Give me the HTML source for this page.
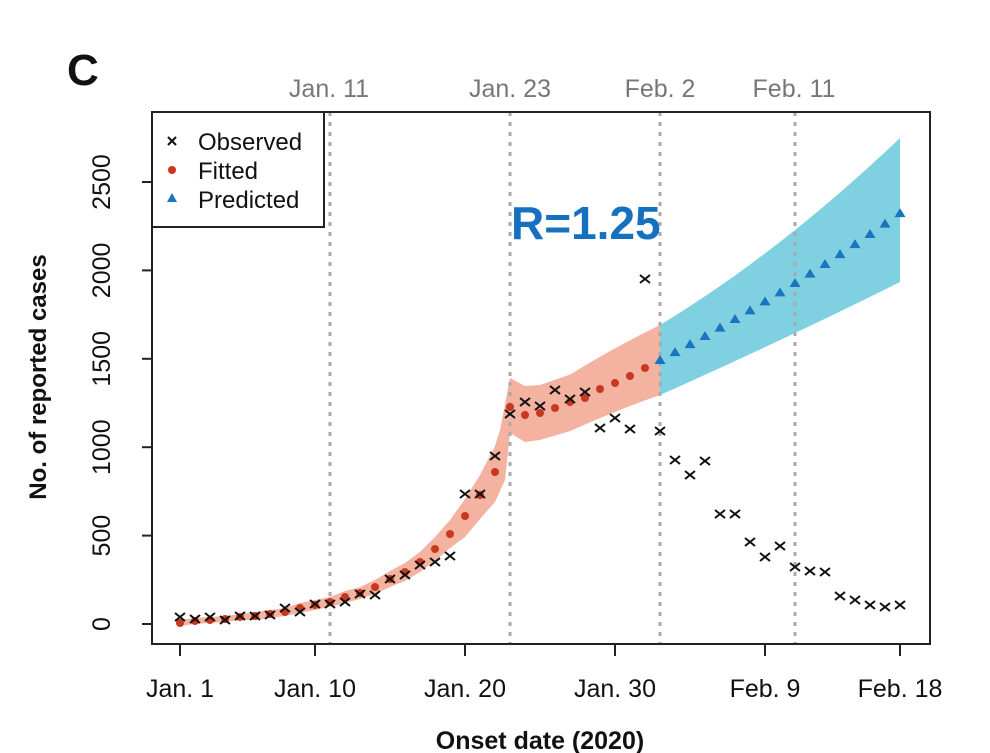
<!DOCTYPE html>
<html><head><meta charset="utf-8"><style>
html,body{margin:0;padding:0;background:#fff;}
svg{display:block;}
text{font-family:"Liberation Sans",Arial,sans-serif;}
</style></head><body>
<svg id="s" width="990" height="753" viewBox="0 0 990 753" xmlns="http://www.w3.org/2000/svg">
<rect width="990" height="753" fill="#fff"/>
<g id="bands"></g>
<g stroke="#aaa" stroke-width="3" stroke-dasharray="4,6">
<line x1="330" y1="112" x2="330" y2="644"/>
<line x1="510" y1="112" x2="510" y2="644"/>
<line x1="660" y1="112" x2="660" y2="644"/>
<line x1="795" y1="112" x2="795" y2="644"/>
</g>
<g id="pts"></g>
<rect x="152" y="112" width="778" height="532" fill="none" stroke="#222" stroke-width="2"/>
<g stroke="#222" stroke-width="2">
<line x1="142" y1="624" x2="152" y2="624"/><line x1="142" y1="535.6" x2="152" y2="535.6"/>
<line x1="142" y1="447.2" x2="152" y2="447.2"/><line x1="142" y1="358.8" x2="152" y2="358.8"/>
<line x1="142" y1="270.4" x2="152" y2="270.4"/><line x1="142" y1="182" x2="152" y2="182"/>
<line x1="180" y1="644" x2="180" y2="656"/><line x1="315" y1="644" x2="315" y2="656"/>
<line x1="465" y1="644" x2="465" y2="656"/><line x1="615" y1="644" x2="615" y2="656"/>
<line x1="765" y1="644" x2="765" y2="656"/><line x1="900" y1="644" x2="900" y2="656"/>
</g>
<g font-size="25" fill="#111" text-anchor="middle">
<text transform="translate(110,624) rotate(-90)">0</text>
<text transform="translate(110,535.6) rotate(-90)">500</text>
<text transform="translate(110,447.2) rotate(-90)">1000</text>
<text transform="translate(110,358.8) rotate(-90)">1500</text>
<text transform="translate(110,270.4) rotate(-90)">2000</text>
<text transform="translate(110,182) rotate(-90)">2500</text>
<text x="180" y="697">Jan. 1</text>
<text x="315" y="697">Jan. 10</text>
<text x="465" y="697">Jan. 20</text>
<text x="615" y="697">Jan. 30</text>
<text x="765" y="697">Feb. 9</text>
<text x="900" y="697">Feb. 18</text>
</g>
<g font-size="25" fill="#777" text-anchor="middle">
<text x="329" y="97">Jan. 11</text>
<text x="510" y="97">Jan. 23</text>
<text x="660" y="97">Feb. 2</text>
<text x="794" y="97">Feb. 11</text>
</g>
<text x="540" y="749" font-size="25" font-weight="bold" text-anchor="middle" fill="#111">Onset date (2020)</text>
<text transform="translate(46,377) rotate(-90)" font-size="24" font-weight="bold" text-anchor="middle" fill="#111">No. of reported cases</text>
<text x="67" y="85" font-size="44" font-weight="bold" fill="#111">C</text>
<text x="511" y="239" font-size="46" font-weight="bold" fill="#1570c0">R=1.25</text>
<rect x="152" y="112" width="172" height="115" fill="#fff" stroke="#222" stroke-width="2"/>
<g stroke="#111" stroke-width="2"><line x1="168" y1="137" x2="176" y2="145"/><line x1="176" y1="137" x2="168" y2="145"/></g>
<circle cx="172" cy="170" r="4" fill="#c8381f"/>
<polygon points="172,193 177,202 167,202" fill="#1a75c0"/>
<g font-size="24" fill="#111">
<text x="198" y="150">Observed</text>
<text x="198" y="179">Fitted</text>
<text x="198" y="208">Predicted</text>
</g>
</svg>
<script>
var NS="http://www.w3.org/2000/svg";
function el(p,t,a){var e=document.createElementNS(NS,t);for(var k in a)e.setAttribute(k,a[k]);p.appendChild(e);return e;}
var X=function(d){return 180+15*d;};
var bands=document.getElementById('bands'),pts=document.getElementById('pts');
var fit=[623,621,620,619,617,616,614,612,608,605,602,597,593,587,579,572,562,549,534,516,495,472,407,415,413,408,402,398,389,383,376,368,362];
var hw=[3,3,3,3,3,4,4,4,5,5,5,6,6,7,8,9,10,12,14,17,20,26];
var up=[],lo=[];
for(var d=0;d<=21;d++){up.push([X(d),fit[d]-hw[d]]);lo.push([X(d),fit[d]+hw[d]+(d>18?4:0)]);}
up.push([500,430]);up.push([510,378]);up.push([525,386]);up.push([540,385]);
lo.push([505,480]);lo.push([510,433]);lo.push([525,442]);lo.push([540,440]);
for(var d=26;d<=32;d++){var t=(d-25)/7;up.push([X(d),384-59*t+ -8*t*(1-t)]);lo.push([X(d),438-43*t-6*t*(1-t)]);}
var s=up.map(function(p){return p.join(',');}).concat(lo.reverse().map(function(p){return p.join(',');}));
el(bands,'polygon',{points:s.join(' '),fill:'#f4b3a0'});
var bu=[],bl=[];
for(var t=0;t<=16;t++){bu.push([X(32+t),325-9.1*t-0.1616*t*t]);bl.push([X(32+t),395-6.66*t-0.025*t*t]);}
s=bu.map(function(p){return p.join(',');}).concat(bl.reverse().map(function(p){return p.join(',');}));
el(bands,'polygon',{points:s.join(' '),fill:'#7fd0e0'});
for(var d=0;d<=31;d++)el(pts,'circle',{cx:X(d),cy:fit[d],r:4,fill:'#c8381f'});
for(var t=0;t<=16;t++){var x=X(32+t),y=360-7.74*t-0.09*t*t;el(pts,'polygon',{points:x+','+(y-5)+' '+(x+5.5)+','+(y+4)+' '+(x-5.5)+','+(y+4),fill:'#1a75c0'});}
var obs=[617,619,617,620,616,616,615,608,612,604,604,602,594,595,579,575,565,562,556,494,494,456,414,402,406,390,399,392,428,418,429,279,431,460,475,461,514,514,542,557,546,567,571,572,596,600,605,607,605];
for(var d=0;d<obs.length;d++){var x=X(d),y=obs[d];var g=el(pts,'g',{stroke:'#111','stroke-width':2});
el(g,'line',{x1:x-5,y1:y-4,x2:x+5,y2:y+4});el(g,'line',{x1:x+5,y1:y-4,x2:x-5,y2:y+4});}
</script>
</body></html>
